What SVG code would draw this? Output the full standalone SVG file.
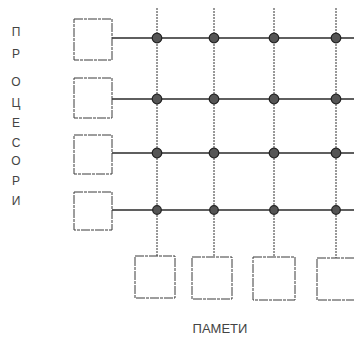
<svg xmlns="http://www.w3.org/2000/svg" width="354" height="340" viewBox="0 0 354 340">
<style>
.box{fill:#fff;stroke:#3a3a3a;stroke-width:1;stroke-dasharray:9 1 3 1}
.h{stroke:#2a2a2a;stroke-width:1.3}
.v{stroke:#333;stroke-width:1;stroke-dasharray:2 1}
.dot{fill:#555;stroke:#222;stroke-width:1.2}
.lbl{font-family:"Liberation Sans",Arial,sans-serif;font-size:12px;fill:#444;text-anchor:middle}
</style>
<rect width="354" height="340" fill="#fff"/>
<g id="connectors">
<line class="v" x1="157" y1="8" x2="157" y2="256"/>
<line class="v" x1="214" y1="8" x2="214" y2="257"/>
<line class="v" x1="274" y1="8" x2="274" y2="257"/>
<line class="v" x1="336" y1="8" x2="336" y2="258"/>
<line class="h" x1="112" y1="38" x2="354" y2="38"/>
<line class="h" x1="112" y1="99" x2="354" y2="99"/>
<line class="h" x1="112" y1="153" x2="354" y2="153"/>
<line class="h" x1="112" y1="210" x2="354" y2="210"/>
</g>
<g id="switches">
<circle class="dot" cx="157" cy="38" r="4.8"/><circle class="dot" cx="214" cy="38" r="4.8"/><circle class="dot" cx="274" cy="38" r="4.8"/><circle class="dot" cx="336" cy="38" r="4.8"/>
<circle class="dot" cx="157" cy="99" r="4.8"/><circle class="dot" cx="214" cy="99" r="4.8"/><circle class="dot" cx="274" cy="99" r="4.8"/><circle class="dot" cx="336" cy="99" r="4.8"/>
<circle class="dot" cx="157" cy="153" r="4.8"/><circle class="dot" cx="214" cy="153" r="4.8"/><circle class="dot" cx="274" cy="153" r="4.8"/><circle class="dot" cx="336" cy="153" r="4.8"/>
<circle class="dot" cx="157" cy="210" r="4.3"/><circle class="dot" cx="214" cy="210" r="4.3"/><circle class="dot" cx="274" cy="210" r="4.3"/><circle class="dot" cx="336" cy="210" r="4.3"/>
</g>
<g id="p1"><rect class="box" x="74" y="19" width="38" height="41"/></g>
<g id="p2"><rect class="box" x="74" y="78" width="38" height="40"/></g>
<g id="p3"><rect class="box" x="74" y="135" width="38" height="39"/></g>
<g id="p4"><rect class="box" x="74" y="192" width="38" height="38"/></g>
<g id="m1"><rect class="box" x="135" y="256" width="40" height="42"/></g>
<g id="m2"><rect class="box" x="192" y="257" width="40" height="42"/></g>
<g id="m3"><rect class="box" x="253" y="257" width="42" height="43"/></g>
<g id="m4"><rect class="box" x="317" y="258" width="40" height="42"/></g>
<g id="label-processors" class="lbl">
<text x="16" y="36">П</text>
<text x="16" y="58">Р</text>
<text x="16" y="86">О</text>
<text x="16" y="107">Ц</text>
<text x="16" y="127">Е</text>
<text x="16" y="147">С</text>
<text x="16" y="165">О</text>
<text x="16" y="185">Р</text>
<text x="16" y="205">И</text>
</g>
<g id="label-memories"><text class="lbl" x="220" y="333" style="font-size:13px">ПАМЕТИ</text></g>
</svg>
